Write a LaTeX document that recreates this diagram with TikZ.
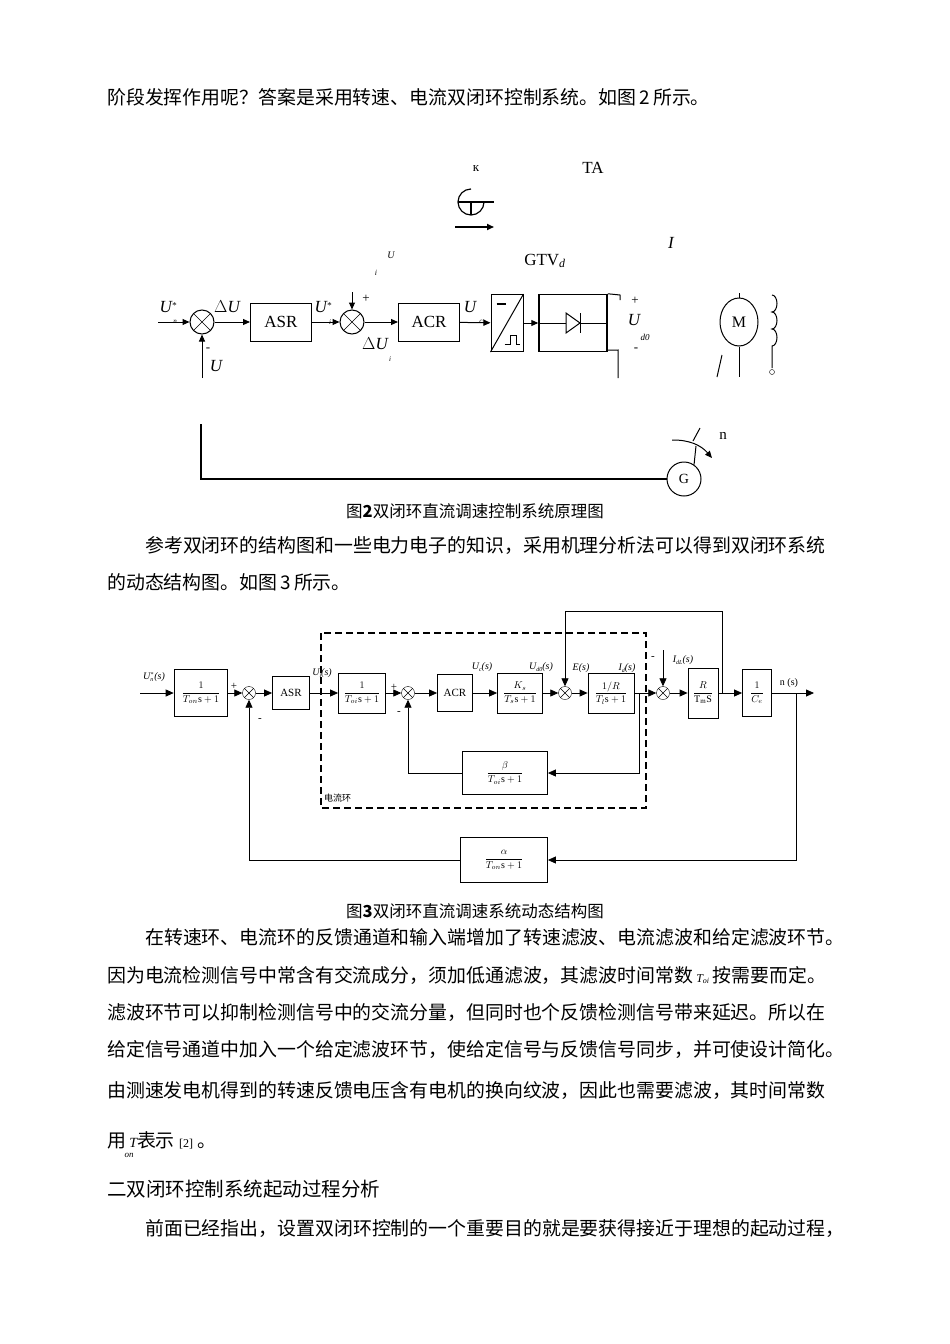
\documentclass[tikz,border=0pt]{standalone}
\usepackage{fontspec}
\setmainfont{Liberation Serif}
\newfontfamily\cjk{Noto Sans CJK SC}
\usetikzlibrary{arrows.meta,calc,shapes.geometric}
\begin{document}
\begin{tikzpicture}[x=1pt,y=-1pt,
  body/.style={anchor=west,inner sep=0,font=\cjk\fontsize{18.9}{20}\selectfont},
  capt/.style={inner sep=0,font=\cjk\fontsize{16.5}{20}\selectfont},
  blk/.style={draw,line width=1pt,inner sep=0},
  lbl/.style={inner sep=0,font=\fontsize{17}{20}\selectfont},
  sm/.style={inner sep=0,font=\fontsize{9}{10}\selectfont},
  sumb/.style={draw,circle,line width=1pt,minimum size=24pt,inner sep=0},
  sumc/.style={draw,circle,minimum size=13pt,inner sep=0},
  ar/.style={-{Triangle[length=7pt,width=6pt]},line width=1pt},
  ar3/.style={-{Triangle[length=8pt,width=7pt]},line width=0.8pt},
  bx/.style={draw,line width=0.8pt,inner sep=0,font=\fontsize{10}{12}\selectfont},
  t3/.style={inner sep=0,font=\fontsize{11}{12}\selectfont}]
\useasboundingbox (0,0) rectangle (950,1344);
\fill[white] (0,0) rectangle (950,1344);
% ---------- text ----------
\node[body] (l1) at (107,97) {阶段发挥作用呢？答案是采用转速、电流双闭环控制系统。如图\,2\,所示。};
\node[capt] (c2) at (475,511) {图{\bfseries 2}双闭环直流调速控制系统原理图};
\node[body] (l2) at (145,546) {参考双闭环的结构图和一些电力电子的知识，采用机理分析法可以得到双闭环系统};
\node[body] (l3) at (107,582) {的动态结构图。如图\,3\,所示。};
\node[capt] (c3) at (475,911) {图{\bfseries 3}双闭环直流调速系统动态结构图};
\node[body] (l4) at (145,937) {在转速环、电流环的反馈通道和输入端增加了转速滤波、电流滤波和给定滤波环节。};
\node[body] (l5) at (107,975) {因为电流检测信号中常含有交流成分，须加低通滤波，其滤波时间常数\,{\rmfamily\itshape\fontsize{12}{12}\selectfont T\textsubscript{oi}}\,按需要而定。};
\node[body] (l6) at (107,1012) {滤波环节可以抑制检测信号中的交流分量，但同时也个反馈检测信号带来延迟。所以在};
\node[body] (l7) at (107,1049) {给定信号通道中加入一个给定滤波环节，使给定信号与反馈信号同步，并可使设计简化。};
\node[body] (l8) at (107,1091) {由测速发电机得到的转速反馈电压含有电机的换向纹波，因此也需要滤波，其时间常数};
\node[body] (l9) at (107,1140) {用\,{\rmfamily\itshape\fontsize{14}{14}\selectfont T}表示 {\rmfamily\fontsize{12}{12}\selectfont [2]} 。};
\node[sm,font=\itshape\fontsize{9}{10}\selectfont] (on) at (129,1155) {on};
\node[body,font=\cjk\fontsize{19.5}{22}\selectfont] (h2) at (107,1189) {二双闭环控制系统起动过程分析};
\node[body] (l10) at (145,1229) {前面已经指出，设置双闭环控制的一个重要目的就是要获得接近于理想的起动过程，};
% ---------- figure 2 ----------
\node[lbl,font=\fontsize{13}{14}\selectfont] (kap) at (476,169) {к};
\node[lbl] (TA) at (593,168) {TA};
\draw[line width=1.2pt] (484,202) arc (0:270:13);
\draw[line width=1.2pt] (458,202) -- (484,202) -- (494,202);
\draw[line width=1.2pt] (471,202) -- (471,215);
\coordinate (ha) at (455,227); \coordinate (hb) at (494,227);
\draw[ar,line width=1.6pt] (ha) -- (hb);
\node[lbl,font=\itshape\fontsize{17}{20}\selectfont] (I) at (671,243) {I};
\node[sm,font=\itshape\fontsize{10}{10}\selectfont] (Us) at (391,255) {U};
\node[sm,font=\itshape\fontsize{8}{10}\selectfont] (is) at (376,273) {i};
\node[lbl] (gtv) at (545,261) {GTV\textsubscript{\itshape d}};
\coordinate (in2) at (158,322);
\node[sumb] (s1) at (202,322) {};
\draw (s1.45) -- (s1.225) (s1.135) -- (s1.315);
\node[blk,minimum width=61pt,minimum height=38pt,font=\fontsize{17}{20}\selectfont] (asr) at (281,322) {ASR};
\node[sumb] (s2) at (352,322) {};
\draw (s2.45) -- (s2.225) (s2.135) -- (s2.315);
\node[blk,minimum width=61pt,minimum height=38pt,font=\fontsize{17}{20}\selectfont] (acr) at (429,322) {ACR};
\node[blk,minimum width=32pt,minimum height=57pt] (cv) at (507,323) {};
\draw[line width=1pt] (cv.south west) -- (cv.north east);
\draw[line width=1.2pt] ($(cv.north west)+(6,10)$) -- ($(cv.north west)+(15,10)$);
\draw[line width=0.8pt] ($(cv.south west)+(14,-8)$) -- ++(6,0) -- ++(0,-9) -- ++(6,0) -- ++(0,9) -- ++(3,0);
\node[blk,line width=1.5pt,minimum width=68pt,minimum height=57pt] (dio) at (573,323) {};
\draw[line width=0.6pt] (dio.west) -- (dio.east);
\draw[line width=1pt,fill=white] (566,313) -- (566,333) -- (580,323) -- cycle;
\draw[line width=1pt] (580,313) -- (580,333);
\draw[line width=1pt] (dio.north east) -- (620,295) -- (620,300);
\draw[line width=1pt] ($(dio.south east)+(0,-2)$) -- (618,350) -- (618,378);
\node[lbl,font=\fontsize{13}{14}\selectfont] (pl) at (635,301) {+};
\node[lbl,font=\fontsize{13}{14}\selectfont] (mi) at (636,350) {-};
\node[lbl,font=\itshape\fontsize{17}{20}\selectfont] (ud) at (634,320) {U};
\node[sm,font=\itshape\fontsize{9}{10}\selectfont] (d0) at (645,337) {d0};
\draw[ar] (in2) -- (s1);
\draw[ar] (s1) -- (asr);
\draw[ar] (asr) -- (s2);
\draw[ar] (s2) -- (acr);
\draw[ar] (acr) -- (cv);
\draw[ar] (cv) -- (dio);
\coordinate (s2t) at (352,292);
\draw[ar] (s2t) -- (s2);
\coordinate (s1b) at (202,378);
\draw[ar] (s1b) -- (s1);
\node[lbl,font=\itshape\fontsize{17}{20}\selectfont] (Un) at (168,307) {U\raisebox{4pt}{\fontsize{9}{10}\selectfont *}};
\node[sm,font=\itshape\fontsize{7}{8}\selectfont] (nn) at (175,322) {n};
\node[lbl,font=\itshape\fontsize{17}{20}\selectfont] (dU) at (227,307) {$\Delta$U};
\node[lbl,font=\itshape\fontsize{17}{20}\selectfont] (Ui) at (323,307) {U\raisebox{4pt}{\fontsize{9}{10}\selectfont *}};
\node[sm,font=\itshape\fontsize{7}{8}\selectfont] (ii) at (330,322) {i};
\node[lbl,font=\fontsize{13}{14}\selectfont] (p2) at (366,299) {+};
\node[lbl,font=\itshape\fontsize{17}{20}\selectfont] (dUi) at (375,344) {$\Delta$U};
\node[sm,font=\itshape\fontsize{7}{8}\selectfont] (ii2) at (390,359) {i};
\node[lbl,font=\itshape\fontsize{17}{20}\selectfont] (Uc) at (470,307) {U};
\node[sm,font=\itshape\fontsize{7}{8}\selectfont] (ct) at (482,322) {ct};
\node[lbl,font=\itshape\fontsize{17}{20}\selectfont] (Uf) at (216,366) {U};
\node[lbl,font=\fontsize{13}{14}\selectfont] (m1) at (208,350) {-};
% motor
\node[draw,ellipse,line width=1pt,minimum width=38pt,minimum height=48pt,inner sep=0,font=\fontsize{16}{18}\selectfont] (M) at (739,322) {M};
\draw[line width=1pt] (M.north) -- ++(0,-5);
\draw[line width=1pt] (M.south) -- (739,377);
\draw[line width=1pt] (722,355) -- (717,377);
\draw[line width=1pt] (772,295) arc (-90:90:5 and 8.5) arc (-90:90:5 and 8.5) arc (-90:90:5 and 8.5) -- (772,368);
\node[draw,circle,inner sep=0,minimum size=5pt] (cc) at (772,372) {};
% lower feedback
\node[draw,circle,line width=1pt,minimum size=34pt,inner sep=0,font=\fontsize{14}{16}\selectfont] (G) at (684,479) {G};
\coordinate (fb1) at (201,424); \coordinate (fb2) at (201,479);
\draw[line width=1.2pt] (fb1) -- (fb2) -- (G);
\draw[line width=1pt] (G.55) -- (696,446);
\draw[line width=1pt,-{Triangle[length=7pt,width=6pt]}] (672,440) to[bend left=25] (712,458);
\draw[line width=1pt] (700,428) -- (693,441);
\node[lbl,font=\fontsize{15}{16}\selectfont] (nl) at (723,436) {n};
% ---------- figure 3 ----------
\node[t3,font=\itshape\fontsize{10}{12}\selectfont] (U3) at (154,677) {U\raisebox{3pt}{\fontsize{6}{6}\selectfont *}\kern-3pt\raisebox{-2pt}{\fontsize{6}{6}\selectfont n}\kern1pt(s)};
\coordinate (i3) at (140,693);
\node[bx,line width=1.6pt,minimum width=53pt,minimum height=47pt] (b1) at (201,693) {$\displaystyle\frac{1}{T_{on}\mathrm{s}+1}$};
\node[sumc] (sa) at (249,693) {};
\draw (sa.45) -- (sa.225) (sa.135) -- (sa.315);
\node[bx,minimum width=37pt,minimum height=33pt,font=\fontsize{11}{12}\selectfont] (asr3) at (291,693) {ASR};
\node[bx,minimum width=47pt,minimum height=40pt] (b2) at (362,693) {$\displaystyle\frac{1}{T_{oi}\mathrm{s}+1}$};
\node[sumc] (sb) at (408,693) {};
\draw (sb.45) -- (sb.225) (sb.135) -- (sb.315);
\node[bx,minimum width=35pt,minimum height=37pt,font=\fontsize{11}{12}\selectfont] (acr3) at (455,693) {ACR};
\node[bx,minimum width=45pt,minimum height=40pt] (b3) at (520,693) {$\displaystyle\frac{K_s}{T_s\mathrm{s}+1}$};
\node[sumc] (sc) at (565,693) {};
\draw (sc.45) -- (sc.225) (sc.135) -- (sc.315);
\node[bx,minimum width=46pt,minimum height=40pt] (b4) at (611,693) {$\displaystyle\frac{1/R}{T_l\mathrm{s}+1}$};
\node[sumc] (sd) at (663,693) {};
\draw (sd.45) -- (sd.225) (sd.135) -- (sd.315);
\node[bx,minimum width=30pt,minimum height=50pt] (b5) at (703,693) {$\displaystyle\frac{R}{\mathrm{T_mS}}$};
\node[bx,minimum width=29pt,minimum height=47pt] (b6) at (757,693) {$\displaystyle\frac{1}{C_e}$};
\coordinate (o3) at (814,693);
\node[bx,minimum width=85pt,minimum height=43pt] (bb) at (505,773) {$\displaystyle\frac{\beta}{T_{oi}\mathrm{s}+1}$};
\node[bx,minimum width=87pt,minimum height=45pt] (ba) at (504,860) {$\displaystyle\frac{\alpha}{T_{on}\mathrm{s}+1}$};
\draw[line width=1.2pt,dash pattern=on 7pt off 4pt] (321,633) rectangle (646,808);
\node[t3,anchor=west,font=\cjk\fontsize{9}{10}\selectfont] (dl) at (324,798) {电流环};
\draw[ar3] (i3) -- (b1);
\draw[ar3] (b1) -- (sa);
\draw[ar3] (sa) -- (asr3);
\draw[ar3] (asr3) -- (b2);
\draw[ar3] (b2) -- (sb);
\draw[ar3] (sb) -- (acr3);
\draw[ar3] (acr3) -- (b3);
\draw[ar3] (b3) -- (sc);
\draw[ar3] (sc) -- (b4);
\draw[ar3] (b4) -- (sd);
\draw[ar3] (sd) -- (b5);
\draw[ar3] (b5) -- (b6);
\draw[ar3] (b6) -- (o3);
\coordinate (j1) at (639,693); \coordinate (j1b) at (639,773);
\draw[ar3] (j1) -- (j1b) -- (bb);
\draw[ar3] (bb) -| (sb);
\coordinate (j2) at (796,693); \coordinate (j2b) at (796,860);
\draw[ar3] (j2) -- (j2b) -- (ba);
\draw[ar3] (ba) -| (sa);
\coordinate (j3) at (722,693); \coordinate (j3t) at (722,611); \coordinate (j3l) at (565,611);
\draw[ar3] (j3) -- (j3t) -- (j3l) -- (sc);
\coordinate (dt) at (663,650);
\draw[ar3] (dt) -- (sd);
\node[t3] (p3a) at (234,686) {+};
\node[t3] (m3a) at (260,720) {-};
\node[t3] (p3b) at (394,687) {+};
\node[t3] (m3b) at (399,713) {-};
\node[t3] (m3d) at (653,658) {-};
\node[t3,font=\itshape\fontsize{10}{12}\selectfont] (Ui3) at (322,673) {U\raisebox{-2pt}{\fontsize{6}{6}\selectfont i}(s)};
\node[t3,font=\itshape\fontsize{10}{12}\selectfont] (Uc3) at (482,667) {U\raisebox{-2pt}{\fontsize{6}{6}\selectfont c}(s)};
\node[t3,font=\itshape\fontsize{10}{12}\selectfont] (Ud3) at (541,667) {U\raisebox{-2pt}{\fontsize{6}{6}\selectfont d0}(s)};
\node[t3,font=\itshape\fontsize{10}{12}\selectfont] (E3) at (581,668) {E(s)};
\node[t3,font=\itshape\fontsize{10}{12}\selectfont] (Id3) at (627,668) {I\raisebox{-2pt}{\fontsize{6}{6}\selectfont d}(s)};
\node[t3,font=\itshape\fontsize{10}{12}\selectfont] (IdL) at (683,660) {I\raisebox{-2pt}{\fontsize{6}{6}\selectfont dL}(s)};
\node[t3,font=\fontsize{10}{12}\selectfont] (ns) at (789,683) {n (s)};
\end{tikzpicture}
\end{document}
